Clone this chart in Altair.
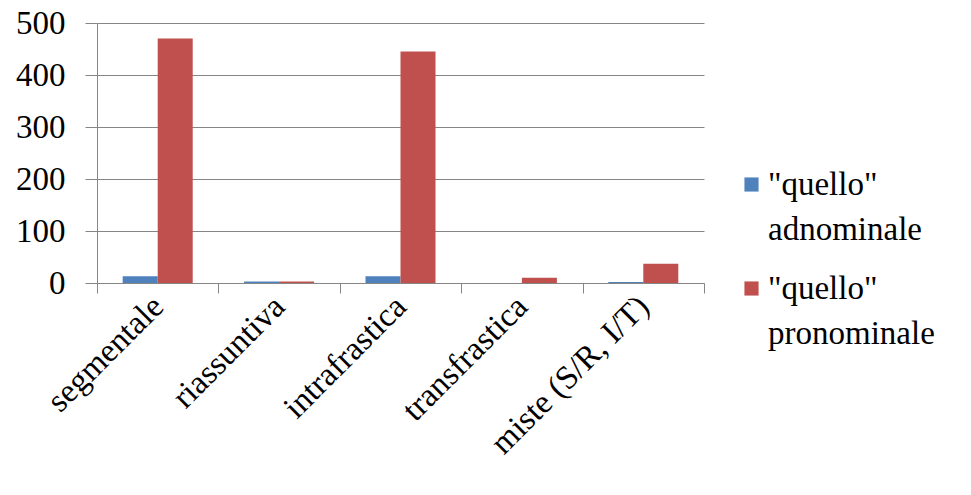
import altair as alt
import pandas as pd

categories = ["segmentale", "riassuntiva", "intrafrastica", "transfrastica", "miste (S/R, I/T)"]
series = ['"quello"\nadnominale', '"quello"\npronominale']
adnominale = [13, 3, 13, 0, 2]
pronominale = [470, 3, 445, 10, 37]
colors = ["#4F81BD", "#C0504D"]

rows = []
for i, cat in enumerate(categories):
    rows.append({"categoria": cat, "serie": series[0], "valore": adnominale[i]})
    rows.append({"categoria": cat, "serie": series[1], "valore": pronominale[i]})
df = pd.DataFrame(rows)

FONT = "Times New Roman"
GRID = "#868686"
SIZE = 33

chart = alt.Chart(df).mark_bar().encode(
    x=alt.X(
        "categoria:N",
        sort=categories,
        title=None,
        scale=alt.Scale(paddingInner=0, paddingOuter=0),
        axis=alt.Axis(
            tickBand="extent",
            tickSize=10,
            tickColor=GRID,
            domainColor=GRID,
            labelAngle=-45,
            labelAlign="right",
            labelBaseline="middle",
            labelFont=FONT,
            labelFontSize=SIZE,
            labelColor="#000000",
            labelPadding=8,
            labelLimit=400,
            grid=False,
        ),
    ),
    xOffset=alt.XOffset(
        "serie:N", sort=series, scale=alt.Scale(paddingInner=0, paddingOuter=0.734)
    ),
    y=alt.Y(
        "valore:Q",
        title=None,
        scale=alt.Scale(domain=[0, 500], nice=False),
        axis=alt.Axis(
            values=[0, 100, 200, 300, 400, 500],
            tickSize=12,
            tickColor=GRID,
            domainColor=GRID,
            gridColor=GRID,
            labelFont=FONT,
            labelFontSize=SIZE,
            labelColor="#000000",
            labelPadding=20,
        ),
    ),
    color=alt.Color(
        "serie:N",
        sort=series,
        scale=alt.Scale(domain=series, range=colors),
        legend=alt.Legend(
            title=None,
            orient="none",
            legendX=638,
            legendY=145,
            symbolType="square",
            symbolSize=200,
            symbolStrokeWidth=0,
            labelFont=FONT,
            labelFontSize=SIZE,
            labelColor="#000000",
            labelExpr="split(datum.label, '\\n')",
            labelLimit=400,
            labelOffset=0,
            rowPadding=25,
        ),
    ),
).properties(
    width=607,
    height=260,
    autosize="none",
    padding={"left": 97, "top": 23, "right": 267, "bottom": 212},
).configure(
    font=FONT,
    style={"guide-label": {"lineHeight": 45, "font": FONT, "fontSize": SIZE}},
).configure_axis(
    labelFont=FONT
).configure_legend(
    labelFont=FONT
).configure_view(stroke=None)

chart.save("out.html", embed_options={"renderer": "svg", "actions": False})
